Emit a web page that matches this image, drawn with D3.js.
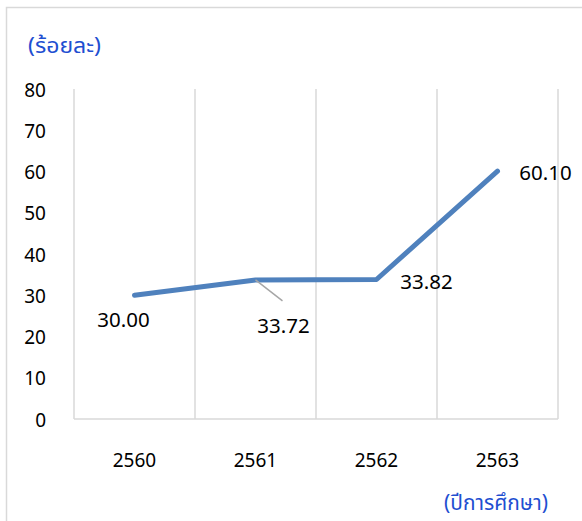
<!DOCTYPE html>
<html><head><meta charset="utf-8">
<script src="https://cdn.jsdelivr.net/npm/d3@7"></script>
<style>body{margin:0;background:#fff;} text{font-family:"Noto Sans","Noto Sans Thai","DejaVu Sans",sans-serif;}</style>
</head><body>
<svg id="c" width="582" height="521"></svg>
<script>
const categories = ["2560","2561","2562","2563"];
const values = [30.00, 33.72, 33.82, 60.10];
const labels = ["30.00","33.72","33.82","60.10"];
const yTicks = [0,10,20,30,40,50,60,70,80];
const yTitle = "(ร้อยละ)";
const xTitle = "(ปีการศึกษา)";

(function(){
const svg = d3.select("#c");
svg.append("rect").attr("x",6.5).attr("y",7.5).attr("width",590).attr("height",530)
  .attr("fill","#fff").attr("stroke","#d9d9d9").attr("stroke-width",1.5);

const pl=74, pr=558, pt=89, pb=419;
const x = d3.scaleBand().domain(categories).range([pl,pr]);
const y = d3.scaleLinear().domain([0,80]).range([pb,pt]);

const bounds = categories.map(c=>x(c)).concat([pr]);
svg.append("g").selectAll("line").data(bounds).join("line")
  .attr("x1",d=>d).attr("x2",d=>d).attr("y1",pt).attr("y2",pb)
  .attr("stroke","#d9d9d9").attr("stroke-width",1.5);
svg.append("line").attr("x1",pl).attr("x2",pr).attr("y1",pb).attr("y2",pb)
  .attr("stroke","#d9d9d9").attr("stroke-width",1.5);

svg.append("g").selectAll("text").data(yTicks).join("text")
  .attr("x",46).attr("y",d=>y(d)+1).attr("dy","0.35em").attr("text-anchor","end")
  .attr("font-size",19).attr("fill","#000").text(d=>d);

svg.append("g").selectAll("text").data(categories).join("text")
  .attr("x",d=>x(d)+x.bandwidth()/2).attr("y",460).attr("dy","0.35em").attr("text-anchor","middle")
  .attr("font-size",19).attr("fill","#000").text(d=>d);

const pts = categories.map((c,i)=>[x(c)+x.bandwidth()/2, y(values[i])]);
svg.append("path").attr("d",d3.line()(pts)).attr("fill","none")
  .attr("stroke","#4f81bd").attr("stroke-width",5).attr("stroke-linecap","round").attr("stroke-linejoin","round");

svg.append("line").attr("x1",pts[1][0]).attr("y1",pts[1][1]).attr("x2",pts[1][0]+27).attr("y2",pts[1][1]+21)
  .attr("stroke","#a6a6a6").attr("stroke-width",1.5);

const offs = [[-11,25],[28,46],[50,2],[48,2]];
svg.append("g").selectAll("text").data(labels).join("text")
  .attr("x",(d,i)=>pts[i][0]+offs[i][0]).attr("y",(d,i)=>pts[i][1]+offs[i][1]).attr("dy","0.35em")
  .attr("text-anchor","middle").attr("font-size",20.5).attr("fill","#000").text(d=>d);

svg.append("text").attr("x",28).attr("y",45).attr("dy","0.35em").attr("font-size",22)
  .attr("textLength",73).attr("lengthAdjust","spacingAndGlyphs")
  .attr("fill","#1f4fd1").text(yTitle);
svg.append("text").attr("x",444).attr("y",502).attr("dy","0.35em").attr("font-size",22)
  .attr("textLength",104).attr("lengthAdjust","spacingAndGlyphs")
  .attr("fill","#1f4fd1").text(xTitle);
})();
</script>
</body></html>
